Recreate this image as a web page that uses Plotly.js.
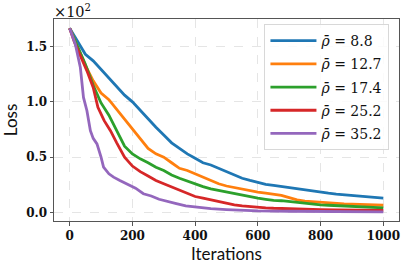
<!DOCTYPE html>
<html>
<head>
<meta charset="utf-8">
<script src="https://cdn.plot.ly/plotly-3.0.1.min.js"></script>
<style>html,body{margin:0;padding:0;background:#fff;}#chart{width:407px;height:266px;}</style>
</head>
<body>
<div id="chart"></div>
<script>
// Loss values (actual units; axis shows ×10^2)
const rhoLabels = ["8.8", "12.7", "17.4", "25.2", "35.2"];

const iterBlue = [0,25,50,75,100,125,150,175,200,225,250,275,300,325,350,375,400,425,450,475,500,525,550,575,600,625,650,675,700,725,750,775,800,825,850,875,900,925,950,975,1000];
const lossBlue = [166.5,155,143,137,129,121,113,106,100,92,85,77,70,63,58,53,49,45,43,40,37,34,31,29,27,25.5,24.5,23.5,22,21,20,19,18.3,17.5,16.7,16,15.3,14.7,14,13.5,13];

const iterOrange = [0,25,50,75,100,125,150,175,200,225,250,275,300,325,350,375,400,425,450,475,500,525,550,575,600,625,650,675,700,725,750,775,800,825,850,875,900,925,950,975,1000];
const lossOrange = [166.5,150,133,119,108,102,93,84,75,67,58,53,50,45,40,38,35,32,29,26,24,22.5,21,19.8,18.5,17.5,16.5,15.5,13.5,11.5,10.4,9.8,9.2,8.7,8.3,7.9,7.6,7.3,7,6.8,6.6];

const iterGreen = [0,25,50,75,100,125,150,175,200,225,250,275,300,325,350,375,400,425,450,475,500,525,550,575,600,625,650,675,700,725,750,775,800,825,850,875,900,925,950,975,1000];
const lossGreen = [166.5,150,134,115,99,88,74,60,53,48.5,45,41,38,34,31,28.5,25.5,23.5,21.5,20,18.5,17,15.6,14.5,13,12,11,10.7,10,8.8,8,7.5,7,6.6,6.2,5.8,5.4,5,4.7,4.4,4.2];

const iterRed = [0,15,35,55,75,90,110,130,150,175,200,225,250,275,300,325,350,375,400,425,450,475,500,525,550,575,600,625,650,675,700,750,800,850,900,950,1000];
const lossRed = [166.5,154,141,128,113,95,83,74,63,50,42,37,33,29,26,23,20,17.5,14.5,13,11.5,9.5,8,7,6,5.3,4.8,4.3,3.9,3.6,3.3,3,2.7,2.5,2.3,2.1,2];

const iterPurple = [0,18,34,44,55,66,75,87,100,108,125,140,160,182,210,235,260,285,310,340,370,400,450,500,550,600,700,800,900,1000];
const lossPurple = [166.5,152,131,104,92,74,67,62,50,41,35,32,29,26,22,17,15,12,10.5,8,6,5,3.5,2.7,2,1.6,1.2,1,0.8,0.7];

const xTicks = [0,200,400,600,800,1000];
const yTickVals = [0,50,100,150];
const yTickText = ["0.0","0.5","1.0","1.5"];

const colors = ["#1f77b4","#ff7f0e","#2ca02c","#d62728","#9467bd"];
const xs = [iterBlue, iterOrange, iterGreen, iterRed, iterPurple];
const ys = [lossBlue, lossOrange, lossGreen, lossRed, lossPurple];

const traces = xs.map((x, i) => ({
  x: x, y: ys[i], type: "scatter", mode: "lines",
  name: "<i>ρ̄</i> = " + rhoLabels[i],
  legendgroup: "g" + i,
  line: {color: colors[i], width: 2.8}
}));

const serif = "DejaVu Serif";
const layout = {
  width: 407, height: 266,
  margin: {l: 54, r: 8, t: 18.5, b: 45.3, pad: 0},
  paper_bgcolor: "#fff", plot_bgcolor: "#fff",
  showlegend: true,
  legend: {
    x: 0.61, y: 0.975, xref: "paper", yref: "paper",
    xanchor: "left", yanchor: "top",
    font: {family: serif, size: 14, color: "#111"},
    bgcolor: "rgba(255,255,255,0.85)", bordercolor: "#d8d8d8", borderwidth: 1,
    itemwidth: 46, tracegroupgap: 2
  },
  xaxis: {
    range: [-50, 1050], tickvals: xTicks, ticktext: xTicks.map(String),
    showgrid: true, gridcolor: "#dedede", griddash: "dash", gridwidth: 0.8,
    zeroline: false, showline: true, mirror: true, linecolor: "#555", linewidth: 1,
    ticks: "outside", ticklen: 3.5, tickcolor: "#555",
    tickfont: {family: serif, size: 12, color: "#111", weight: "bold"},
    title: {text: "Iterations", font: {family: "Lato", size: 17, color: "#111"}, standoff: 0}
  },
  yaxis: {
    range: [-7.6, 174.8], tickvals: yTickVals, ticktext: yTickText,
    showgrid: true, gridcolor: "#dedede", griddash: "dash", gridwidth: 0.8,
    zeroline: false, showline: true, mirror: true, linecolor: "#555", linewidth: 1,
    ticks: "outside", ticklen: 3.5, tickcolor: "#555",
    tickfont: {family: serif, size: 12, color: "#111", weight: "bold"},
    title: {text: "Loss", font: {family: "Lato", size: 17, color: "#111"}, standoff: 6}
  },
  annotations: [{
    text: "×10<sup>2</sup>", xref: "paper", yref: "paper", x: 0, y: 1,
    xanchor: "left", yanchor: "bottom", showarrow: false,
    font: {family: serif, size: 14.5, color: "#111"}, xshift: -2, yshift: -3
  }]
};

Plotly.newPlot("chart", traces, layout, {displayModeBar: false, staticPlot: true});
</script>
</body>
</html>
